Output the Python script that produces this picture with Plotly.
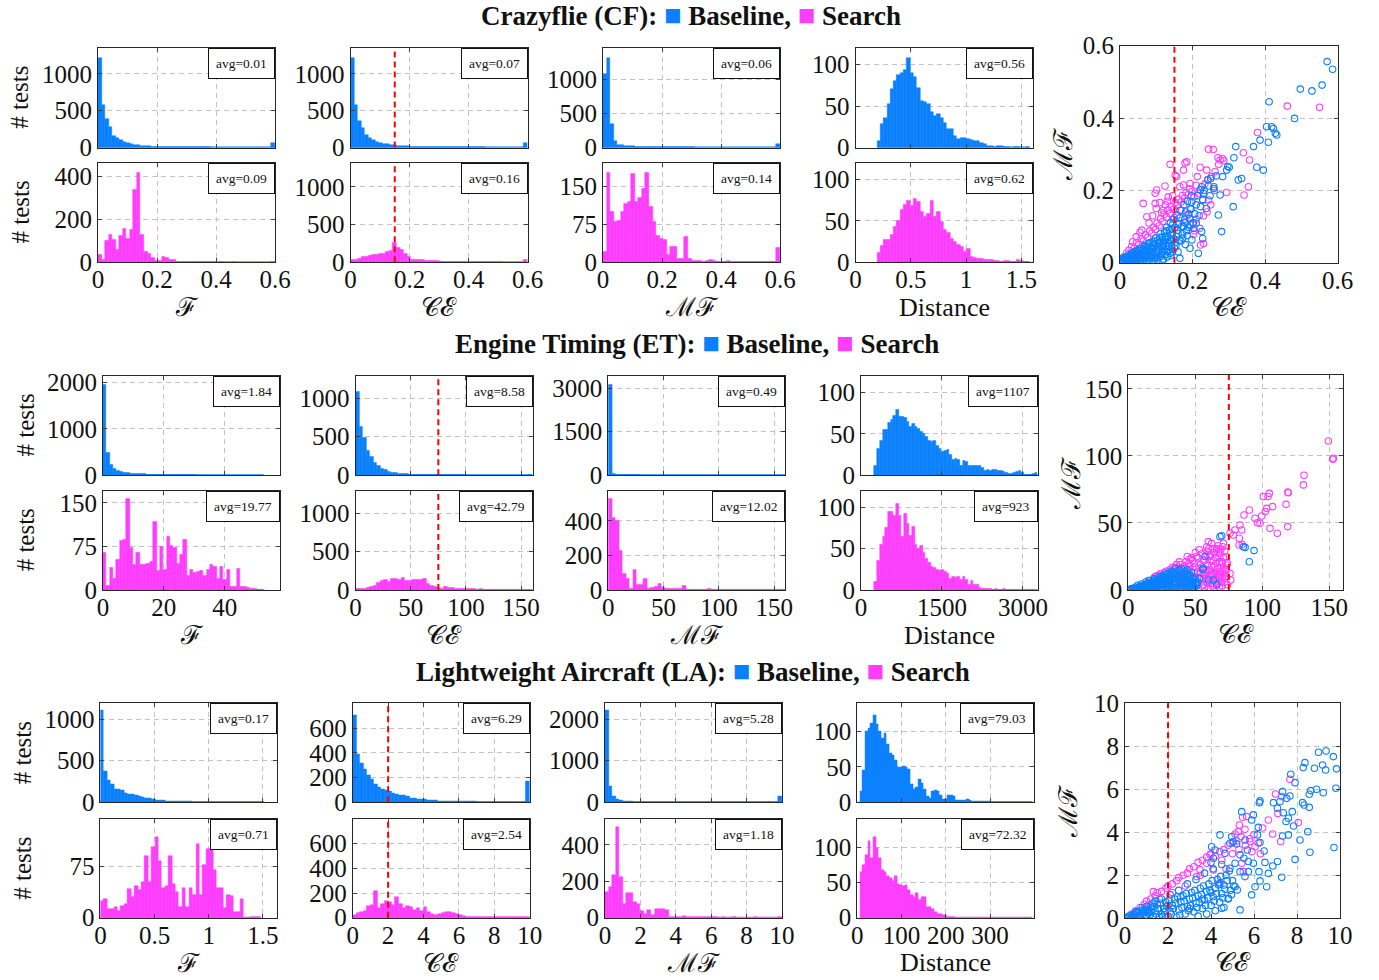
import numpy as np
import plotly.graph_objects as go

BLUE = "#0a80ff"
MAGENTA = "#ff3dff"
RED = "#ff0000"
SERIF = "Liberation Serif"
MATH = "DejaVu Serif"

# ---------------- Crazyflie (CF) ----------------
# histogram bins given as (first edge, bin width); counts per bin
cf_f_bins = (0.0, 0.012)
cf_f_base = [1220, 580, 380, 280, 155, 124, 100, 80, 67, 44, 35, 28, 22, 18, 15, 12, 10, 8, 6, 5,
             4, 4, 3, 3, 2, 2, 2, 1, 1, 1, 1, 1, 0, 0, 0, 0, 0, 0, 0, 0, 0, 0, 0, 0, 0, 0, 0, 0, 0, 55]
cf_f_search = [37, 10, 100, 130, 105, 57, 122, 158, 110, 153, 340, 420, 130, 50, 42, 20, 8, 8, 25, 22,
               10, 12, 4, 5, 3, 2, 2, 2, 1, 1, 1, 1, 1, 1, 1, 1, 0, 0, 1, 0, 0, 0, 0, 0, 0, 0, 0, 0, 0, 2]
cf_ce_bins = (0.0, 0.012)
cf_ce_base = [1220, 582, 366, 259, 172, 129, 99, 78, 65, 52, 43, 34, 30, 24, 20, 16, 14, 12, 10, 8,
              7, 6, 5, 4, 4, 3, 3, 2, 2, 2, 2, 1, 1, 1, 1, 1, 1, 1, 0, 0, 0, 0, 0, 0, 0, 0, 0, 0, 0, 56]
cf_ce_search = [40, 35, 50, 70, 80, 90, 95, 100, 110, 120, 140, 160, 260, 190, 165, 120, 70, 40, 35, 30,
                30, 25, 20, 18, 15, 12, 10, 10, 8, 8, 6, 5, 5, 4, 4, 3, 3, 3, 2, 2, 2, 2, 2, 1, 1, 1, 1, 1, 1, 30]
cf_mf_bins = (0.0, 0.012)
cf_mf_base = [1080, 1310, 350, 90, 40, 30, 25, 20, 15, 10, 10, 8, 6, 5, 4, 3, 3, 2, 2, 2,
              1, 1, 1, 1, 1, 1, 0, 0, 0, 0, 0, 0, 0, 0, 0, 0, 0, 0, 0, 0, 0, 0, 0, 0, 0, 0, 0, 0, 0, 55]
cf_mf_search = [20, 178, 100, 80, 82, 100, 115, 120, 175, 120, 128, 145, 178, 110, 80, 52, 46, 44, 15, 30,
                30, 8, 8, 50, 8, 3, 4, 3, 2, 3, 6, 3, 2, 2, 2, 3, 1, 1, 2, 1, 1, 1, 1, 1, 1, 1, 1, 1, 1, 28]
cf_dist_bins = (0.195, 0.03)
cf_dist_base = [8, 28, 35, 52, 70, 80, 88, 90, 94, 108, 90, 85, 72, 56, 55, 52, 43, 38, 40, 35,
                30, 22, 22, 14, 10, 11, 12, 10, 9, 8, 8, 6, 4, 2, 2, 1, 2, 2, 1, 1, 0, 1, 1, 0, 0, 1]
cf_dist_search = [11, 20, 27, 27, 33, 43, 50, 63, 69, 74, 68, 77, 73, 61, 55, 59, 74, 55, 61, 49,
                  39, 36, 28, 25, 21, 19, 13, 16, 7, 5, 4, 4, 3, 3, 3, 2, 2, 1, 2, 2, 1, 1, 3, 2, 1, 1]
cf_avg_base = ["0.01", "0.07", "0.06", "0.56"]
cf_avg_search = ["0.09", "0.16", "0.14", "0.62"]
cf_ce_threshold = 0.15
# (CE, MF) per test
cf_scatter_search = [
    (0.550, 0.430), (0.461, 0.433), (0.379, 0.360), (0.340, 0.304), (0.357, 0.284), (0.354, 0.210),
    (0.342, 0.187), (0.257, 0.313), (0.244, 0.314), (0.276, 0.284), (0.283, 0.288), (0.184, 0.279),
    (0.179, 0.276), (0.138, 0.272), (0.156, 0.238), (0.152, 0.242), (0.175, 0.256), (0.124, 0.212),
    (0.101, 0.201), (0.097, 0.192), (0.133, 0.182), (0.097, 0.164), (0.064, 0.164), (0.074, 0.127),
    (0.055, 0.084), (0.035, 0.058), (0.221, 0.264), (0.213, 0.238), (0.239, 0.256), (0.230, 0.053),
    (0.222, 0.049), (0.203, 0.079), (0.294, 0.194), (0.244, 0.173), (0.193, 0.219), (0.165, 0.210),
    (0.119, 0.145), (0.010, 0.015), (0.018, 0.026), (0.025, 0.034), (0.032, 0.045), (0.040, 0.040),
    (0.046, 0.056), (0.052, 0.050), (0.058, 0.066), (0.064, 0.060), (0.070, 0.077), (0.076, 0.070),
    (0.082, 0.088), (0.088, 0.082), (0.092, 0.098), (0.098, 0.092), (0.102, 0.110), (0.108, 0.102),
    (0.112, 0.122), (0.118, 0.114), (0.122, 0.134), (0.128, 0.126), (0.132, 0.146), (0.138, 0.136),
    (0.142, 0.155), (0.148, 0.148), (0.152, 0.166), (0.158, 0.158), (0.162, 0.176), (0.168, 0.168),
    (0.172, 0.186), (0.178, 0.178), (0.182, 0.194), (0.188, 0.188), (0.192, 0.204), (0.198, 0.196),
    (0.204, 0.182), (0.210, 0.214), (0.216, 0.192), (0.222, 0.202), (0.228, 0.172), (0.234, 0.218),
    (0.242, 0.228), (0.252, 0.238), (0.262, 0.252), (0.272, 0.272), (0.286, 0.282), (0.270, 0.290),
    (0.100, 0.150), (0.110, 0.166), (0.130, 0.170), (0.115, 0.138), (0.090, 0.130), (0.080, 0.110),
    (0.210, 0.120), (0.220, 0.095), (0.240, 0.140), (0.205, 0.088), (0.195, 0.150), (0.185, 0.130),
    (0.170, 0.145), (0.150, 0.125), (0.160, 0.105), (0.200, 0.110), (0.145, 0.185), (0.125, 0.160),
    (0.260, 0.200), (0.250, 0.160), (0.230, 0.130), (0.175, 0.215), (0.060, 0.090), (0.045, 0.072),
]
cf_scatter_base = [
    (0.571, 0.556), (0.586, 0.535), (0.557, 0.491), (0.529, 0.475), (0.497, 0.480), (0.481, 0.399),
    (0.411, 0.445), (0.409, 0.333), (0.404, 0.376), (0.418, 0.376), (0.423, 0.371), (0.428, 0.358),
    (0.432, 0.353), (0.386, 0.339), (0.395, 0.256), (0.377, 0.264), (0.368, 0.321), (0.319, 0.321),
    (0.314, 0.290), (0.335, 0.233), (0.326, 0.229), (0.312, 0.155), (0.280, 0.086), (0.301, 0.264),
    (0.297, 0.266), (0.294, 0.256), (0.283, 0.238), (0.276, 0.187), (0.271, 0.132), (0.259, 0.210),
    (0.250, 0.233), (0.244, 0.212), (0.230, 0.192), (0.221, 0.201), (0.225, 0.086), (0.228, 0.067),
    (0.216, 0.026), (0.198, 0.063), (0.193, 0.040), (0.210, 0.109), (0.203, 0.095),
    (0.003, 0.002), (0.005, 0.010), (0.008, 0.004), (0.010, 0.015), (0.012, 0.002), (0.015, 0.008),
    (0.018, 0.018), (0.020, 0.004), (0.022, 0.012), (0.025, 0.022), (0.028, 0.006), (0.030, 0.015),
    (0.033, 0.027), (0.035, 0.004), (0.038, 0.012), (0.040, 0.020), (0.042, 0.032), (0.045, 0.008),
    (0.048, 0.016), (0.050, 0.026), (0.053, 0.038), (0.055, 0.003), (0.058, 0.012), (0.060, 0.022),
    (0.063, 0.032), (0.066, 0.044), (0.068, 0.008), (0.070, 0.017), (0.073, 0.028), (0.076, 0.040),
    (0.078, 0.052), (0.080, 0.005), (0.083, 0.014), (0.086, 0.024), (0.088, 0.036), (0.091, 0.048),
    (0.094, 0.060), (0.096, 0.010), (0.099, 0.020), (0.102, 0.031), (0.105, 0.043), (0.108, 0.056),
    (0.110, 0.070), (0.113, 0.018), (0.116, 0.030), (0.119, 0.044), (0.122, 0.058), (0.125, 0.074),
    (0.128, 0.088), (0.131, 0.030), (0.134, 0.045), (0.137, 0.060), (0.140, 0.076), (0.143, 0.094),
    (0.146, 0.108), (0.150, 0.040), (0.153, 0.056), (0.156, 0.072), (0.159, 0.090), (0.162, 0.108),
    (0.165, 0.124), (0.168, 0.060), (0.172, 0.080), (0.175, 0.100), (0.178, 0.120), (0.181, 0.140),
    (0.185, 0.075), (0.188, 0.098), (0.192, 0.122), (0.195, 0.148), (0.198, 0.168), (0.202, 0.110),
    (0.206, 0.135), (0.210, 0.160), (0.214, 0.185), (0.218, 0.130), (0.222, 0.155), (0.228, 0.175),
    (0.232, 0.200), (0.238, 0.150), (0.242, 0.230), (0.248, 0.185), (0.225, 0.210), (0.258, 0.205),
    (0.265, 0.240), (0.120, 0.008), (0.140, 0.020), (0.160, 0.030), (0.180, 0.050), (0.165, 0.012),
    (0.004, 0.006), (0.007, 0.001), (0.009, 0.008), (0.013, 0.012), (0.016, 0.003), (0.017, 0.013),
    (0.021, 0.008), (0.023, 0.017), (0.026, 0.002), (0.027, 0.011), (0.029, 0.020), (0.031, 0.008),
    (0.034, 0.018), (0.036, 0.025), (0.037, 0.008), (0.039, 0.003), (0.041, 0.015), (0.043, 0.024),
    (0.044, 0.001), (0.046, 0.012), (0.047, 0.030), (0.049, 0.006), (0.051, 0.019), (0.052, 0.033),
    (0.054, 0.011), (0.056, 0.027), (0.057, 0.007), (0.059, 0.040), (0.061, 0.016), (0.062, 0.004),
    (0.064, 0.026), (0.065, 0.036), (0.067, 0.013), (0.069, 0.048), (0.071, 0.022), (0.072, 0.034),
    (0.074, 0.006), (0.075, 0.045), (0.077, 0.019), (0.079, 0.030), (0.081, 0.055), (0.082, 0.010),
    (0.084, 0.042), (0.085, 0.032), (0.087, 0.018), (0.089, 0.058), (0.090, 0.004), (0.092, 0.028),
    (0.093, 0.040), (0.095, 0.052), (0.097, 0.015), (0.098, 0.068), (0.100, 0.036), (0.101, 0.025),
    (0.103, 0.008), (0.104, 0.062), (0.106, 0.048), (0.107, 0.014), (0.109, 0.035), (0.111, 0.080),
    (0.112, 0.060), (0.114, 0.024), (0.115, 0.045), (0.117, 0.070), (0.118, 0.010), (0.120, 0.052),
    (0.121, 0.036), (0.123, 0.085), (0.124, 0.022), (0.126, 0.064), (0.127, 0.046), (0.129, 0.098),
    (0.130, 0.016), (0.132, 0.072), (0.133, 0.054), (0.135, 0.036), (0.136, 0.090), (0.138, 0.026),
    (0.139, 0.110), (0.141, 0.064), (0.142, 0.048), (0.144, 0.082), (0.145, 0.030), (0.147, 0.120),
    (0.148, 0.066), (0.151, 0.098), (0.154, 0.046), (0.157, 0.130), (0.160, 0.080), (0.163, 0.062),
    (0.166, 0.145), (0.170, 0.100), (0.173, 0.068), (0.176, 0.160), (0.180, 0.110), (0.183, 0.088),
    (0.186, 0.170), (0.190, 0.135), (0.194, 0.105), (0.197, 0.185),
]

# ---------------- Engine Timing (ET) ----------------
et_f_bins = (0.0, 1.1)
et_f_base = [1950, 480, 230, 150, 100, 80, 65, 55, 45, 40, 35, 30, 25, 20, 18, 15, 12, 10, 8, 7,
             6, 5, 5, 4, 4, 3, 3, 3, 2, 2, 2, 2, 2, 1, 1, 1, 1, 1, 1, 1, 1, 1, 1, 1, 1, 1, 1, 0]
et_f_search = [65, 8, 38, 20, 52, 85, 87, 157, 73, 44, 65, 44, 43, 46, 48, 117, 33, 75, 35, 91,
               77, 72, 45, 60, 87, 24, 35, 30, 32, 33, 25, 35, 44, 40, 20, 40, 17, 35, 6, 6,
               37, 5, 5, 4, 3, 2, 1, 1]
et_ce_bins = (0.0, 3.2)
et_ce_base = [1080, 630, 490, 315, 240, 160, 118, 92, 75, 52, 40, 30, 25, 20, 15, 12, 10, 8, 6, 5,
              5, 4, 4, 3, 3, 3, 2, 2, 2, 2, 2, 1, 1, 1, 1, 1, 1, 1, 1, 1, 1, 1, 1, 1, 1, 1, 1, 1, 1, 2]
et_ce_search = [20, 22, 20, 25, 40, 55, 90, 125, 135, 110, 150, 145, 130, 155, 120, 125, 130, 140, 140, 150,
                85, 55, 40, 30, 22, 40, 25, 30, 20, 18, 15, 20, 15, 12, 10, 12, 10, 8, 10, 8,
                7, 8, 6, 6, 5, 5, 4, 6, 4, 10]
et_mf_bins = (0.0, 3.2)
et_mf_base = [3115, 70, 30, 15, 10, 8, 6, 5, 4, 3, 3, 2, 2, 2, 1, 1, 1, 1, 1, 1,
              1, 1, 1, 1, 1, 1, 1, 1, 1, 1, 1, 1, 1, 1, 1, 1, 1, 1, 1, 1, 1, 1, 1, 1, 1, 1, 1, 1, 1, 1]
et_mf_search = [528, 420, 404, 227, 97, 68, 10, 117, 29, 29, 64, 10, 12, 19, 39, 12, 6, 10, 8, 10,
                6, 23, 4, 3, 3, 2, 3, 2, 10, 2, 2, 3, 2, 2, 1, 2, 1, 1, 1, 1, 1, 1, 1, 1, 1, 1, 1, 1, 1, 1]
et_dist_bins = (250.0, 49.5)
et_dist_base = [12, 32, 42, 55, 55, 63, 67, 72, 79, 71, 71, 70, 64, 58, 62, 59, 56, 52, 50, 46,
                42, 40, 42, 36, 32, 28, 30, 31, 25, 19, 20, 19, 12, 18, 16, 12, 11, 12, 11, 12,
                9, 6, 7, 6, 7, 7, 6, 5, 4, 3, 2, 2, 3, 4, 5, 3, 1, 1, 1, 2, 3]
et_dist_search = [10, 36, 55, 65, 75, 95, 95, 90, 104, 90, 65, 92, 80, 66, 77, 55, 50, 53, 45, 38,
                  33, 28, 27, 25, 23, 24, 22, 20, 14, 16, 15, 16, 12, 16, 12, 7, 11, 7, 6, 3,
                  2, 1, 1, 1, 0, 1, 0, 0, 1, 0, 0, 0, 0, 0, 0, 0, 0, 0, 0, 0, 0]
et_avg_base = ["1.84", "8.58", "0.49", "1107"]
et_avg_search = ["19.77", "42.79", "12.02", "923"]
et_ce_threshold = 75
et_scatter_search = [
    (149.3, 111.2), (152.5, 97.5), (153.0, 98.3), (131.1, 85.6), (130.6, 78.4), (117.7, 63.9),
    (118.9, 47.3), (119.4, 72.6), (119.0, 73.0), (111.2, 42.3), (107.7, 62.2), (105.7, 46.0),
    (105.2, 72.1), (104.2, 69.7), (103.2, 60.9), (102.2, 58.5), (100.7, 69.7), (99.5, 55.2),
    (98.3, 49.8), (96.3, 50.2), (94.5, 53.5), (90.3, 59.7), (86.3, 56.0), (83.3, 48.5),
    (84.6, 44.8), (82.8, 38.6), (82.6, 33.6), (79.6, 44.8), (78.4, 41.0), (75.9, 42.3),
    (75.9, 12.4), (76.4, 7.5), (73.4, 18.7), (72.1, 8.7), (70.4, 32.3), (69.7, 21.1),
    (68.4, 28.6), (65.9, 29.9), (63.4, 22.4), (62.2, 34.8), (60.9, 24.9), (59.7, 36.1),
    (58.5, 32.3), (85.0, 34.0),
    (10, 2), (14, 4), (16, 1), (18, 6), (20, 3), (22, 8), (24, 5), (25, 1), (26, 10), (28, 7),
    (30, 3), (30, 12), (32, 9), (34, 14), (34, 5), (36, 11), (37, 2), (38, 16), (40, 8), (40, 13),
    (42, 18), (42, 4), (44, 11), (45, 20), (46, 15), (47, 6), (48, 22), (48, 2), (50, 17), (50, 10),
    (52, 24), (52, 5), (54, 19), (54, 13), (55, 27), (56, 8), (57, 22), (57, 2), (58, 15), (59, 29),
    (60, 11), (61, 26), (62, 5), (62, 18), (63, 31), (64, 13), (65, 9), (65, 24), (66, 3), (67, 16),
    (67, 33), (68, 11), (68, 27), (69, 6), (70, 14), (70, 20), (71, 35), (72, 12), (73, 25), (66, 12),
    (64, 7), (60, 14), (58, 9), (56, 12), (53, 16), (44, 25), (46, 23), (50, 28), (53, 30), (38, 21),
    (36, 19), (33, 17), (28, 14), (24, 12), (20, 10), (15, 7),
    (22, 11), (24, 2), (26, 6), (27, 13), (29, 10), (31, 15), (31, 6), (33, 2), (35, 12), (35, 17),
    (37, 8), (39, 19), (39, 4), (41, 10), (41, 15), (43, 21), (43, 7), (44, 2), (45, 13), (46, 18),
    (47, 24), (49, 8), (49, 13), (49, 20), (51, 4), (51, 25), (52, 14), (53, 9), (55, 17), (55, 3),
    (56, 22), (57, 11), (58, 26), (59, 5), (59, 19), (60, 31), (61, 8), (61, 15), (62, 22), (63, 3),
    (63, 11), (64, 17), (64, 28), (65, 6), (65, 14), (66, 20), (66, 31), (67, 9), (67, 5), (68, 14),
    (68, 21), (69, 12), (69, 30), (70, 9), (70, 3), (71, 17), (71, 24), (72, 6), (72, 29), (73, 15),
    (73, 10), (74, 20), (74, 4), (60, 2), (56, 4), (68, 2), (62, 12), (58, 13), (54, 8), (46, 9),
]
et_scatter_base = [
    (85.8, 32.3), (87.1, 31.8), (90.3, 21.1), (93.8, 29.4), (69.7, 40.5), (68.4, 39.8),
    (57.2, 24.9), (56.0, 16.2), (55.5, 15.4), (63.4, 7.5), (65.9, 4.2), (59.7, 7.5),
    (53.0, 8.7), (51.0, 5.0),
    (0.5, 0.2), (1, 0.5), (2, 0.3), (2.5, 1), (3, 0.2), (4, 1.2), (5, 0.5), (5.5, 2), (6, 0.1), (7, 1.5),
    (8, 0.6), (8.5, 2.8), (9, 0.2), (10, 1.8), (11, 3.5), (11, 0.5), (12, 2.5), (13, 4.2), (13, 1), (14, 0.2),
    (15, 3), (15.5, 5), (16, 1.5), (17, 0.3), (18, 4), (18.5, 6), (19, 2), (20, 0.5), (21, 5), (21, 7.5),
    (22, 3), (23, 1), (24, 6), (24, 8.5), (25, 3.5), (26, 0.8), (27, 5), (27, 9.5), (28, 2), (29, 7),
    (30, 10.5), (30, 4), (31, 1), (32, 8), (33, 11.5), (33, 5), (34, 2), (35, 9), (36, 13), (36, 6),
    (37, 3), (38, 10), (38, 15), (39, 7), (40, 4), (40, 1.5), (41, 12), (42, 8), (43, 5), (43, 2),
    (44, 10), (45, 6), (46, 3), (47, 8), (48, 4), (49, 1.5), (50, 5), (35, 16), (32, 14), (28, 12),
    (26, 11), (23, 10), (19, 8.5), (16, 7), (13, 6), (10, 4.5), (7, 3.5),
    (1.5, 0.1), (3.5, 0.8), (4.5, 0.2), (6.5, 1.2), (7.5, 0.4), (8, 2.2), (9.5, 1.1), (10.5, 0.3),
    (11.5, 2.3), (12, 1.2), (12.5, 3.8), (13.5, 0.6), (14, 2.7), (14.5, 4.8), (15, 1.2), (16.5, 3.4),
    (17, 5.5), (17.5, 1.8), (18, 0.6), (19.5, 4.6), (20, 6.5), (20.5, 2.5), (21.5, 1.2), (22, 5.8),
    (22.5, 8), (23, 3.6), (23.5, 0.4), (24.5, 4.6), (25, 7), (25.5, 1.8), (26, 9), (26.5, 3),
    (27.5, 6.5), (28, 0.5), (28.5, 4), (29, 9.5), (29.5, 2.5), (30.5, 7.5), (31, 5.5), (31.5, 11),
    (32, 3), (32.5, 0.8), (33.5, 8.5), (34, 6.5), (34.5, 12), (35, 4), (35.5, 1.5), (36.5, 9.5),
    (37, 7), (37.5, 14), (38, 5), (38.5, 2), (39, 11.5), (39.5, 8.5), (40.5, 6), (41, 3),
    (41.5, 10), (42, 14), (42.5, 1), (43.5, 7), (44, 12), (44.5, 4), (45, 9), (45.5, 2),
    (46, 11), (46.5, 6.5), (47.5, 3.5), (48, 9.5), (48.5, 6), (49, 2.5), (50, 8), (51, 3),
    (52, 6), (44, 15), (40, 16), (30, 12.5), (25, 10), (20, 8), (33, 13.5), (47, 13),
]

# ---------------- Lightweight Aircraft (LA) ----------------
la_f_bins = (0.0, 0.0315)
la_f_base = [1100, 372, 268, 212, 160, 152, 140, 108, 100, 92, 80, 68, 64, 52, 44, 36, 28, 24, 20, 18,
             16, 14, 12, 10, 9, 8, 7, 6, 6, 5, 5, 4, 4, 3, 3, 3, 2, 2, 2, 2, 2, 1, 1, 1, 1, 1, 1, 1]
la_f_search = [25, 27, 13, 13, 16, 10, 17, 20, 42, 31, 46, 41, 53, 90, 53, 104, 118, 83, 44, 47,
               90, 50, 38, 16, 43, 16, 43, 33, 108, 33, 78, 101, 101, 70, 44, 43, 14, 33, 32, 8,
               9, 27, 0, 0, 1, 1, 1]
la_ce_bins = (0.0, 0.2)
la_ce_base = [707, 387, 315, 267, 219, 187, 147, 125, 107, 93, 85, 72, 64, 59, 53, 45, 35, 32, 27, 24,
              21, 18, 16, 14, 12, 11, 10, 9, 8, 7, 7, 6, 6, 5, 5, 4, 4, 4, 3, 3, 3, 3, 2, 2, 2, 2, 2, 2, 2, 168]
la_ce_search = [22, 35, 43, 54, 97, 102, 215, 75, 113, 137, 129, 102, 164, 108, 75, 97, 83, 62, 75, 54,
                83, 48, 30, 22, 27, 35, 43, 43, 35, 27, 22, 16, 8, 6, 5, 5, 4, 4, 3, 3,
                3, 3, 2, 2, 2, 2, 2, 3, 4, 5]
la_mf_bins = (0.0, 0.2)
la_mf_base = [2200, 380, 150, 80, 50, 30, 20, 15, 12, 10, 8, 7, 6, 5, 5, 4, 4, 3, 3, 3,
              2, 2, 2, 2, 2, 2, 2, 1, 1, 1, 1, 1, 1, 1, 1, 1, 1, 1, 1, 1, 1, 1, 1, 1, 1, 1, 1, 1, 1, 140]
la_mf_search = [143, 170, 235, 500, 225, 75, 134, 134, 88, 73, 37, 20, 42, 15, 48, 50, 48, 42, 5, 4,
                3, 3, 8, 4, 3, 2, 2, 3, 2, 2, 2, 2, 1, 2, 1, 1, 2, 1, 1, 1, 1, 1, 2, 1, 1, 1, 1, 1, 1, 3]
la_dist_bins = (6.0, 6.0)
la_dist_base = [15, 45, 100, 105, 112, 123, 110, 100, 90, 97, 82, 70, 67, 60, 50, 50, 51, 50, 47, 25,
                18, 21, 32, 27, 18, 9, 6, 15, 17, 15, 10, 4, 4, 10, 10, 9, 3, 3, 3, 3,
                4, 3, 2, 1, 1, 1, 2, 1, 2, 0, 0, 0, 0, 0, 0, 0, 0, 0, 0, 0, 0, 0, 0, 0, 0]
la_dist_search = [65, 75, 90, 110, 85, 115, 100, 85, 68, 65, 60, 57, 52, 60, 48, 47, 45, 47, 40, 33,
                  30, 35, 25, 30, 30, 15, 15, 12, 8, 6, 5, 4, 3, 1, 1, 1, 0, 0, 0, 0,
                  0, 0, 0, 0, 0, 0, 0, 0, 0, 0, 0, 0, 0, 0, 0, 0, 0, 0, 0, 0, 0, 0, 0, 0, 0]
la_avg_base = ["0.17", "6.29", "5.28", "79.03"]
la_avg_search = ["0.71", "2.54", "1.18", "72.32"]
la_ce_threshold = 2
la_scatter_search = [
    (7.67, 6.47), (7.00, 5.78), (7.29, 5.66), (7.11, 4.88), (7.24, 3.57), (6.87, 3.92), (8.06, 4.45),
    (6.67, 4.57), (5.66, 4.73), (5.47, 4.70), (5.32, 4.34), (5.12, 3.92), (5.27, 4.03), (5.58, 4.14),
    (5.81, 3.57), (6.05, 3.33), (5.43, 2.56), (5.50, 2.17), (4.42, 1.66), (3.95, 2.95), (4.11, 2.25),
    (3.80, 2.56), (3.49, 2.25), (3.33, 1.94), (1.32, 1.24),
    (0.3, 0.2), (0.5, 0.35), (0.7, 0.5), (0.9, 0.65), (1.0, 0.8), (1.2, 0.9), (1.4, 1.05), (1.5, 1.2),
    (1.7, 1.25), (1.9, 1.4), (2.0, 1.5), (2.2, 1.6), (2.4, 1.75), (2.5, 1.9), (2.7, 2.0), (2.9, 2.1),
    (3.0, 2.3), (3.2, 2.4), (3.4, 2.6), (3.6, 2.7), (3.8, 2.85), (4.0, 3.0), (4.2, 2.9), (4.4, 3.1),
    (4.6, 3.2), (4.8, 3.4), (5.0, 3.5), (5.2, 3.6), (5.4, 3.8), (5.6, 3.4), (5.8, 3.7), (6.0, 3.9),
    (6.2, 3.5), (5.0, 3.0), (5.3, 3.2), (4.5, 2.7), (3.5, 2.0), (2.8, 1.5), (2.2, 1.2), (1.6, 0.9),
    (1.1, 0.6), (0.6, 0.25), (4.7, 2.3), (5.9, 3.1), (6.4, 4.2), (6.3, 3.0),
]
la_scatter_base = [
    (9.35, 7.78), (9.00, 7.72), (9.69, 7.52), (9.19, 7.13), (9.33, 6.90), (9.84, 6.95), (8.37, 7.24),
    (8.29, 7.01), (8.81, 6.98), (7.71, 6.70), (7.91, 6.31), (9.81, 6.05), (8.91, 6.00), (9.22, 5.84),
    (8.64, 5.94), (8.57, 5.77), (8.26, 5.38), (8.33, 5.27), (8.57, 5.16), (7.52, 5.58), (7.67, 5.69),
    (7.33, 5.89), (7.21, 5.43), (6.90, 5.38), (7.09, 5.12), (7.36, 4.91), (7.78, 4.96), (7.60, 4.65),
    (7.49, 4.50), (7.84, 4.29), (7.60, 3.88), (7.33, 3.83), (8.14, 3.64), (8.50, 4.03), (8.60, 3.07),
    (9.72, 3.29), (7.91, 2.74), (7.09, 2.64), (6.87, 2.43), (7.29, 1.91), (6.67, 2.09), (6.59, 1.47),
    (6.28, 1.74), (6.23, 2.17), (6.51, 2.60), (6.47, 3.13), (6.28, 3.52), (6.16, 3.88), (6.20, 4.23),
    (6.25, 5.38), (6.28, 5.46), (5.97, 4.81), (5.89, 4.57), (5.43, 4.96), (6.05, 1.47), (5.89, 1.09),
    (5.35, 0.39), (5.12, 1.47), (5.22, 1.32), (4.81, 0.93), (4.50, 0.47), (4.42, 3.88), (4.03, 3.33),
    (4.19, 3.18), (4.11, 2.79), (4.65, 3.02), (4.88, 3.49), (4.96, 3.80), (5.04, 3.57), (5.19, 3.46),
    (5.58, 3.64), (5.69, 3.18), (5.35, 2.95), (5.53, 2.79), (5.74, 2.64), (5.97, 2.56), (5.74, 2.17),
    (5.58, 1.94), (5.35, 2.17), (5.12, 2.56), (4.88, 2.33),
    (0.1, 0.05), (0.2, 0.1), (0.3, 0.02), (0.4, 0.2), (0.5, 0.08), (0.6, 0.3), (0.7, 0.02), (0.8, 0.15),
    (0.9, 0.4), (1.0, 0.05), (1.1, 0.25), (1.2, 0.5), (1.3, 0.1), (1.4, 0.35), (1.5, 0.65), (1.6, 0.05),
    (1.7, 0.2), (1.8, 0.45), (1.9, 0.75), (2.0, 0.1), (2.1, 0.3), (2.2, 0.6), (2.3, 0.9), (2.4, 0.05),
    (2.5, 0.4), (2.6, 0.75), (2.7, 1.05), (2.8, 0.2), (2.9, 0.55), (3.0, 0.9), (3.1, 1.2), (3.2, 0.3),
    (3.3, 0.7), (3.4, 1.05), (3.5, 1.4), (3.6, 0.45), (3.7, 0.85), (3.8, 1.25), (3.9, 1.6), (4.0, 0.6),
    (4.1, 1.0), (4.2, 1.4), (4.3, 1.8), (4.4, 0.75), (4.5, 1.15), (4.6, 1.55), (4.7, 2.0), (4.8, 0.9),
    (4.9, 1.3), (5.0, 1.75), (4.6, 0.5), (4.2, 0.35), (3.8, 0.2), (3.4, 0.1), (2.5, 1.3), (2.9, 1.6),
    (3.3, 1.8), (3.7, 2.1), (4.1, 2.3), (4.5, 2.5), (4.0, 2.6), (2.1, 1.1), (1.7, 0.9), (1.4, 0.8),
    (1.0, 0.55), (0.7, 0.35),
    (0.15, 0.02), (0.25, 0.12), (0.35, 0.05), (0.45, 0.15), (0.55, 0.25), (0.65, 0.1), (0.75, 0.22),
    (0.85, 0.3), (0.95, 0.1), (1.05, 0.4), (1.15, 0.15), (1.25, 0.3), (1.35, 0.55), (1.45, 0.2),
    (1.55, 0.45), (1.65, 0.7), (1.75, 0.1), (1.85, 0.3), (1.95, 0.55), (2.05, 0.85), (2.15, 0.2),
    (2.25, 0.45), (2.35, 0.7), (2.45, 1.0), (2.55, 0.15), (2.65, 0.5), (2.75, 0.8), (2.85, 1.15),
    (2.95, 0.35), (3.05, 0.6), (3.15, 0.95), (3.25, 1.3), (3.35, 0.5), (3.45, 0.75), (3.55, 1.1),
    (3.65, 1.5), (3.75, 0.6), (3.85, 0.95), (3.95, 1.3), (4.05, 1.75), (4.15, 0.8), (4.25, 1.15),
    (4.35, 1.55), (4.45, 1.95), (4.55, 0.95), (4.65, 1.35), (4.75, 1.75), (4.85, 2.2), (4.95, 1.1),
    (5.05, 1.5), (2.0, 0.6), (2.6, 1.0), (3.0, 0.45), (3.6, 0.9), (4.0, 1.2), (4.4, 1.6), (1.3, 0.7),
    (1.1, 0.35), (0.8, 0.5), (0.5, 0.3),
]

# ---------------- figure assembly ----------------
# reference canvas in pixels; every position below is a fraction of it
W, H = 1379, 980
fig = go.Figure()
layout = {}
annotations = []
shapes = []
axis_no = [0]


def fmt(v):
    return f"{v:g}"


def new_axes(box, xr, yr, xt, yt, show_x):
    axis_no[0] += 1
    s = "" if axis_no[0] == 1 else str(axis_no[0])
    l, t, r, b = box
    common = dict(showline=True, mirror="allticks", linecolor="#262626", linewidth=1,
                  ticks="inside", ticklen=4, tickcolor="#404040", tickwidth=1,
                  showgrid=True, gridcolor="#c4c4c4", gridwidth=1, griddash="5px,4px",
                  zeroline=False, tickmode="array", fixedrange=True, automargin=False,
                  tickfont=dict(family=SERIF, size=25, color="#111111"))
    layout["xaxis" + s] = dict(domain=[l / W, r / W], anchor="y" + s, range=xr, tickvals=xt,
                               ticktext=[fmt(v) for v in xt], showticklabels=show_x,
                               ticklabelstandoff=-5, **common)
    layout["yaxis" + s] = dict(domain=[1 - b / H, 1 - t / H], anchor="x" + s, range=yr, tickvals=yt,
                               ticktext=[fmt(v) for v in yt], **common)
    return "x" + s, "y" + s


def add_hist(xa, ya, bins, counts, color):
    start, width = bins
    counts = np.asarray(counts, dtype=float)
    centers = start + width * (np.arange(len(counts)) + 0.5)
    fig.add_trace(go.Bar(x=centers, y=counts, width=width, xaxis=xa, yaxis=ya,
                         marker=dict(color=color, line=dict(color=color, width=0.5)),
                         showlegend=False, hoverinfo="skip"))
    fig.add_trace(go.Scatter(x=[start, start + width * len(counts)], y=[0, 0], mode="lines",
                             line=dict(color=color, width=2), xaxis=xa, yaxis=ya,
                             showlegend=False, hoverinfo="skip"))


def avg_box(xa, ya, text):
    annotations.append(dict(xref=xa + " domain", yref=ya + " domain", x=1, y=1,
                            xanchor="right", yanchor="top", text="avg=" + text, showarrow=False,
                            bordercolor="#111111", borderwidth=1, borderpad=7, bgcolor="white",
                            font=dict(family=SERIF, size=13.5, color="#111111")))


def vline(xa, ya, xv):
    shapes.append(dict(type="line", xref=xa, yref=ya + " domain", x0=xv, x1=xv, y0=0, y1=1,
                       line=dict(color=RED, width=2, dash="6px,4px"), layer="above"))


def text(x, y, s, size, angle=0, family=SERIF):
    annotations.append(dict(xref="paper", yref="paper", x=x / W, y=1 - y / H, text=s,
                            showarrow=False, textangle=angle, xanchor="center", yanchor="middle",
                            font=dict(family=family, size=size, color="#111111")))


XLABELS = ["ℱ", "𝒞ℰ", "ℳℱ", "Distance"]

blocks = [
    dict(name="Crazyflie (CF)", title_y=15, title_x=691,
         cols=[98, 350.5, 603, 855.5], rows=[(48, 147.5), (162.7, 262.3)],
         scatter_box=(1120, 45.7, 1337.7, 262.7),
         bins=[cf_f_bins, cf_ce_bins, cf_mf_bins, cf_dist_bins],
         base=[cf_f_base, cf_ce_base, cf_mf_base, cf_dist_base],
         search=[cf_f_search, cf_ce_search, cf_mf_search, cf_dist_search],
         avg_base=cf_avg_base, avg_search=cf_avg_search, thr=cf_ce_threshold,
         xr=[[0, 0.6], [0, 0.6], [0, 0.6], [0, 1.6]],
         xt=[[0, 0.2, 0.4, 0.6]] * 3 + [[0, 0.5, 1, 1.5]],
         yr_base=[[0, 1350], [0, 1350], [0, 1460], [0, 120]],
         yt_base=[[0, 500, 1000]] * 3 + [[0, 50, 100]],
         yr_search=[[0, 465], [0, 1320], [0, 197], [0, 120]],
         yt_search=[[0, 200, 400], [0, 500, 1000], [0, 75, 150], [0, 50, 100]],
         sc_range=[0, 0.6], sc_ticks=[0, 0.2, 0.4, 0.6],
         sc_base=cf_scatter_base, sc_search=cf_scatter_search),
    dict(name="Engine Timing (ET)", title_y=343, title_x=697,
         cols=[103, 355.6, 608.3, 861], rows=[(375.7, 475.3), (490.7, 590)],
         scatter_box=(1128.3, 375, 1343.3, 590),
         bins=[et_f_bins, et_ce_bins, et_mf_bins, et_dist_bins],
         base=[et_f_base, et_ce_base, et_mf_base, et_dist_base],
         search=[et_f_search, et_ce_search, et_mf_search, et_dist_search],
         avg_base=et_avg_base, avg_search=et_avg_search, thr=et_ce_threshold,
         xr=[[0, 58.2], [0, 160.5], [0, 160], [0, 3280]],
         xt=[[0, 20, 40], [0, 50, 100, 150], [0, 50, 100, 150], [0, 1500, 3000]],
         yr_base=[[0, 2150], [0, 1290], [0, 3430], [0, 120]],
         yt_base=[[0, 1000, 2000], [0, 500, 1000], [0, 1500, 3000], [0, 50, 100]],
         yr_search=[[0, 171], [0, 1290], [0, 575], [0, 120]],
         yt_search=[[0, 75, 150], [0, 500, 1000], [0, 200, 400], [0, 50, 100]],
         sc_range=[0, 160.4], sc_ticks=[0, 50, 100, 150],
         sc_base=et_scatter_base, sc_search=et_scatter_search),
    dict(name="Lightweight Aircraft (LA)", title_y=671, title_x=693,
         cols=[100.4, 352.7, 605, 857.3], rows=[(703.3, 802.3), (819, 917.7)],
         scatter_box=(1125, 703.3, 1340, 918.3),
         bins=[la_f_bins, la_ce_bins, la_mf_bins, la_dist_bins],
         base=[la_f_base, la_ce_base, la_mf_base, la_dist_base],
         search=[la_f_search, la_ce_search, la_mf_search, la_dist_search],
         avg_base=la_avg_base, avg_search=la_avg_search, thr=la_ce_threshold,
         xr=[[0, 1.634], [0, 10], [0, 10], [0, 400]],
         xt=[[0, 0.5, 1, 1.5], [0, 2, 4, 6, 8, 10], [0, 2, 4, 6, 8, 10], [0, 100, 200, 300]],
         yr_base=[[0, 1190], [0, 800], [0, 2380], [0, 140]],
         yt_base=[[0, 500, 1000], [0, 200, 400, 600], [0, 1000, 2000], [0, 50, 100]],
         yr_search=[[0, 145], [0, 800], [0, 543], [0, 141]],
         yt_search=[[0, 75], [0, 200, 400, 600], [0, 200, 400], [0, 50, 100]],
         sc_range=[0, 10], sc_ticks=[0, 2, 4, 6, 8, 10],
         sc_base=la_scatter_base, sc_search=la_scatter_search),
]

PANEL_W = 177
for blk in blocks:
    annotations.append(dict(
        xref="paper", yref="paper", x=blk["title_x"] / W, y=1 - blk["title_y"] / H,
        xanchor="center", yanchor="middle", showarrow=False,
        text=(f"<b>{blk['name']}: <span style='color:{BLUE};font-size:29px'>■</span> Baseline, "
              f"<span style='color:{MAGENTA};font-size:29px'>■</span> Search</b>"),
        font=dict(family=SERIF, size=27, color="#111111")))

    for ci in range(4):
        left = blk["cols"][ci]
        for ri, (top, bottom) in enumerate(blk["rows"]):
            is_base = ri == 0
            xa, ya = new_axes((left, top, left + PANEL_W, bottom), blk["xr"][ci],
                              blk["yr_base"][ci] if is_base else blk["yr_search"][ci],
                              blk["xt"][ci],
                              blk["yt_base"][ci] if is_base else blk["yt_search"][ci],
                              show_x=not is_base)
            add_hist(xa, ya, blk["bins"][ci],
                     blk["base"][ci] if is_base else blk["search"][ci],
                     BLUE if is_base else MAGENTA)
            avg_box(xa, ya, blk["avg_base"][ci] if is_base else blk["avg_search"][ci])
            if ci == 1:
                vline(xa, ya, blk["thr"])
            if ci == 0:
                text(left - 78, (top + bottom) / 2, "# tests", 25, angle=-90)
        bottom = blk["rows"][1][1]
        if ci < 3:
            text(left + PANEL_W / 2, bottom + 45, XLABELS[ci], 26, family=MATH)
        else:
            text(left + PANEL_W / 2, bottom + 45, XLABELS[ci], 26)

    l, t, r, b = blk["scatter_box"]
    xa, ya = new_axes(blk["scatter_box"], blk["sc_range"], blk["sc_range"],
                      blk["sc_ticks"], blk["sc_ticks"], show_x=True)
    for pts, color in ((blk["sc_search"], MAGENTA), (blk["sc_base"], BLUE)):
        xs = [p[0] for p in pts]
        ys = [p[1] for p in pts]
        fig.add_trace(go.Scatter(x=xs, y=ys, mode="markers", xaxis=xa, yaxis=ya,
                                 marker=dict(symbol="circle-open", size=6.5, color=color,
                                             line=dict(width=1.1, color=color)),
                                 showlegend=False, hoverinfo="skip"))
    vline(xa, ya, blk["thr"])
    text((l + r) / 2, b + 44, "𝒞ℰ", 26, family=MATH)
    text(l - 57, (t + b) / 2, "ℳℱ", 26, angle=-90, family=MATH)

# the figure fills the whole browser viewport; positions are viewport fractions
fig.update_layout(autosize=True, margin=dict(l=0, r=0, t=0, b=0, pad=0),
                  paper_bgcolor="white", plot_bgcolor="white", showlegend=False,
                  bargap=0, barmode="overlay", annotations=annotations, shapes=shapes,
                  **layout)
fig.write_html("out.html", default_width="100vw", default_height="100vh",
               config={"responsive": True, "displayModeBar": False},
               post_script="document.body.style.margin='0';"
                           "document.documentElement.style.overflow='hidden';"
                           "document.body.style.overflow='hidden';")
